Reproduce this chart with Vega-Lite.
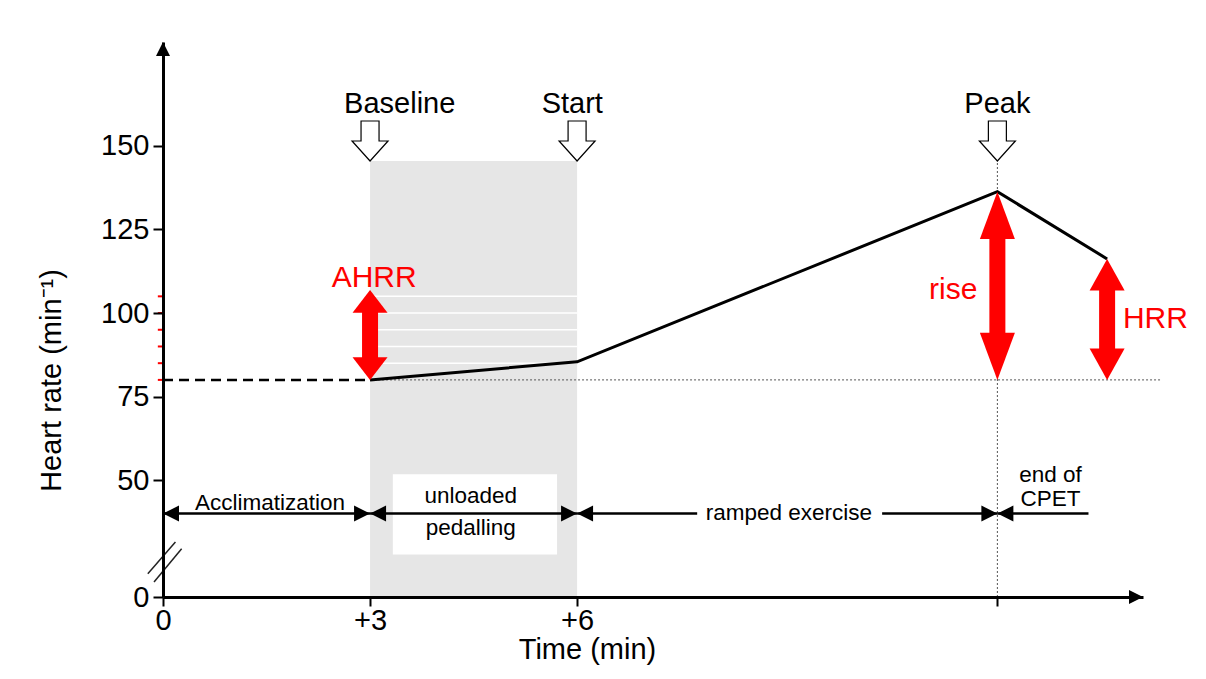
{
  "$schema": "https://vega.github.io/schema/vega-lite/v6.json",
  "autosize": "none",
  "width": 980,
  "height": 555,
  "padding": {"left": 163, "top": 42, "right": 63, "bottom": 82},
  "background": "white",
  "config": {"view": {"stroke": null}, "font": "Liberation Sans"},
  "datasets": {
    "shade": [{"x": 3, "x2": 6, "y": 0, "y2": 145.5}],
    "grid": [{"y": 85}, {"y": 90}, {"y": 95}, {"y": 100}, {"y": 105}],
    "redticks": [{"y": 80}, {"y": 85}, {"y": 90}, {"y": 95}, {"y": 100}, {"y": 105}],
    "box": [{"x": 3.33, "x2": 5.71, "y": 25.5, "y2": 51.8}],
    "hline80": [{"x": 3, "x2": 14.45, "y": 80}],
    "vpeak": [{"x": 12.09, "y": 0, "y2": 145}],
    "acclim": [{"x": 0, "y": 80}, {"x": 3, "y": 80}],
    "hr": [{"x": 3, "y": 80}, {"x": 6, "y": 85.4}, {"x": 12.09, "y": 136.3}, {"x": 13.68, "y": 116.2}],
    "red": [
      {"arrow": "AHRR", "x": 3, "bottom": 80, "top": 106.9, "shaftLow": 84.5, "shaftHigh": 102.5},
      {"arrow": "rise", "x": 12.09, "bottom": 80, "top": 136.3, "shaftLow": 92, "shaftHigh": 124},
      {"arrow": "HRR", "x": 13.68, "bottom": 80, "top": 116.2, "shaftLow": 87.5, "shaftHigh": 108.5}
    ],
    "hsegs": [
      {"x": 0, "x2": 3, "y": 40}, {"x": 3, "x2": 6, "y": 40}, {"x": 6, "x2": 7.74, "y": 40},
      {"x": 10.42, "x2": 12.09, "y": 40}, {"x": 12.09, "x2": 13.41, "y": 40}
    ],
    "hheads": [
      {"x": 0, "y": 40, "dir": "left"}, {"x": 3, "y": 40, "dir": "right"}, {"x": 3, "y": 40, "dir": "left"},
      {"x": 6, "y": 40, "dir": "right"}, {"x": 6, "y": 40, "dir": "left"},
      {"x": 12.09, "y": 40, "dir": "right"}, {"x": 12.09, "y": 40, "dir": "left"}
    ],
    "events": [{"x": 3, "y": 145.5}, {"x": 6, "y": 145.5}, {"x": 12.09, "y": 145.5}],
    "eventLabels": [
      {"label": "Baseline", "x": 3.43, "y": 160}, {"label": "Start", "x": 5.93, "y": 160}, {"label": "Peak", "x": 12.09, "y": 160}
    ],
    "redLabels": [
      {"label": "AHRR", "x": 3.06, "y": 107.8}, {"label": "rise", "x": 11.45, "y": 104.2}, {"label": "HRR", "x": 14.38, "y": 95.4}
    ],
    "phaseLabels": [
      {"label": "Acclimatization", "x": 1.55, "y": 41},
      {"label": "unloaded", "x": 4.46, "y": 43.1},
      {"label": "pedalling", "x": 4.46, "y": 33.5},
      {"label": "ramped exercise", "x": 9.07, "y": 38.2},
      {"label": "end of", "x": 12.86, "y": 49.4},
      {"label": "CPET", "x": 12.86, "y": 42.2}
    ],
    "axisBreak": [{"x": -0.22, "y": 14, "x2": 0.18, "y2": 31.5}, {"x": -0.13, "y": 9, "x2": 0.27, "y2": 29}]
  },
  "resolve": {"scale": {"shape": "independent"}},
  "layer": [
    {
      "data": {"name": "shade"},
      "mark": {"type": "rect", "color": "#e6e6e6"},
      "encoding": {
        "x": {"field": "x", "type": "quantitative",
          "scale": {"domain": [0, 14.2], "nice": false, "zero": false},
          "axis": {"title": "Time (min)", "values": [0, 3, 6, 12.09],
            "labelExpr": "datum.value == 0 ? '0' : datum.value == 3 ? '+3' : datum.value == 6 ? '+6' : ''",
            "grid": false, "domainColor": "black", "domainWidth": 3, "tickColor": "black", "tickWidth": 2, "tickSize": 9,
            "labelFontSize": 29, "labelColor": "black", "labelPadding": 0, "labelFlush": false, "labelOverlap": false,
            "titleFontSize": 29, "titleFontWeight": "normal", "titleColor": "black", "titlePadding": 0, "titleX": 424, "zindex": 1}},
        "x2": {"field": "x2"},
        "y": {"field": "y", "type": "quantitative",
          "scale": {"type": "linear", "domain": [0, 30, 181.1], "range": [555, 505, 0], "nice": false, "zero": false},
          "axis": {"title": "Heart rate (min⁻¹)", "values": [0, 50, 75, 100, 125, 150],
            "grid": false, "domainColor": "black", "domainWidth": 3, "tickColor": "black", "tickWidth": 2, "tickSize": 10,
            "labelFontSize": 29, "labelColor": "black", "labelPadding": 4, "labelFlush": false, "labelOverlap": false,
            "titleFontSize": 29, "titleFontWeight": "normal", "titleColor": "black", "titlePadding": 34, "titleY": 338, "zindex": 1}},
        "y2": {"field": "y2"}
      }
    },
    {
      "data": {"name": "grid"},
      "mark": {"type": "rule", "color": "white", "strokeWidth": 1.5},
      "encoding": {"x": {"datum": 3, "type": "quantitative"}, "x2": {"datum": 6}, "y": {"field": "y", "type": "quantitative"}}
    },
    {
      "data": {"name": "box"},
      "mark": {"type": "rect", "color": "white"},
      "encoding": {"x": {"field": "x", "type": "quantitative"}, "x2": {"field": "x2"}, "y": {"field": "y", "type": "quantitative"}, "y2": {"field": "y2"}}
    },
    {
      "data": {"name": "hline80"},
      "mark": {"type": "rule", "color": "#555555", "strokeWidth": 1, "strokeDash": [2, 2]},
      "encoding": {"x": {"field": "x", "type": "quantitative"}, "x2": {"field": "x2"}, "y": {"field": "y", "type": "quantitative"}}
    },
    {
      "data": {"name": "vpeak"},
      "mark": {"type": "rule", "color": "#555555", "strokeWidth": 1, "strokeDash": [2, 2]},
      "encoding": {"x": {"field": "x", "type": "quantitative"}, "y": {"field": "y", "type": "quantitative"}, "y2": {"field": "y2"}}
    },
    {
      "data": {"name": "acclim"},
      "mark": {"type": "line", "color": "black", "strokeWidth": 2.5, "strokeDash": [10, 6]},
      "encoding": {"x": {"field": "x", "type": "quantitative"}, "y": {"field": "y", "type": "quantitative"}}
    },
    {
      "data": {"name": "hr"},
      "mark": {"type": "line", "color": "black", "strokeWidth": 3},
      "encoding": {"x": {"field": "x", "type": "quantitative"}, "y": {"field": "y", "type": "quantitative"}}
    },
    {
      "data": {"name": "red"},
      "mark": {"type": "rule", "color": "#ff0000", "strokeWidth": 16, "strokeCap": "butt"},
      "encoding": {"x": {"field": "x", "type": "quantitative"}, "y": {"field": "shaftLow", "type": "quantitative"}, "y2": {"field": "shaftHigh"}}
    },
    {
      "data": {"name": "red"},
      "mark": {"type": "point", "filled": true, "fill": "#ff0000", "opacity": 1, "strokeWidth": 0, "size": 1225},
      "encoding": {
        "x": {"field": "x", "type": "quantitative"},
        "y": {"field": "top", "type": "quantitative"},
        "shape": {"field": "arrow", "type": "nominal", "legend": null,
          "scale": {"domain": ["AHRR", "rise", "HRR"], "range": ["M0,0L1,1.3L-1,1.3Z", "M0,0L1,2.7L-1,2.7Z", "M0,0L1,1.8L-1,1.8Z"]}}
      }
    },
    {
      "data": {"name": "red"},
      "mark": {"type": "point", "filled": true, "fill": "#ff0000", "opacity": 1, "strokeWidth": 0, "size": 1225},
      "encoding": {
        "x": {"field": "x", "type": "quantitative"},
        "y": {"field": "bottom", "type": "quantitative"},
        "shape": {"field": "arrow", "type": "nominal", "legend": null,
          "scale": {"domain": ["AHRR", "rise", "HRR"], "range": ["M0,0L1,-1.3L-1,-1.3Z", "M0,0L1,-2.7L-1,-2.7Z", "M0,0L1,-1.8L-1,-1.8Z"]}}
      }
    },
    {
      "data": {"name": "hsegs"},
      "mark": {"type": "rule", "color": "black", "strokeWidth": 2.5},
      "encoding": {"x": {"field": "x", "type": "quantitative"}, "x2": {"field": "x2"}, "y": {"field": "y", "type": "quantitative"}}
    },
    {
      "data": {"name": "hheads"},
      "mark": {"type": "point", "filled": true, "fill": "black", "opacity": 1, "strokeWidth": 0, "size": 256},
      "encoding": {
        "x": {"field": "x", "type": "quantitative"},
        "y": {"field": "y", "type": "quantitative"},
        "shape": {"field": "dir", "type": "nominal", "legend": null,
          "scale": {"domain": ["left", "right"], "range": ["M0,0L2,-1L2,1Z", "M0,0L-2,-1L-2,1Z"]}}
      }
    },
    {
      "data": {"name": "events"},
      "mark": {"type": "point", "filled": true, "fill": "white", "stroke": "black", "strokeWidth": 1.2, "opacity": 1, "size": 1296,
        "shape": "M0,0L-1,-1.11L-0.5,-1.11L-0.5,-2.22L0.5,-2.22L0.5,-1.11L1,-1.11Z"},
      "encoding": {"x": {"field": "x", "type": "quantitative"}, "y": {"field": "y", "type": "quantitative"}}
    },
    {
      "data": {"name": "eventLabels"},
      "mark": {"type": "text", "font": "Liberation Sans", "fontSize": 29, "color": "black", "align": "center", "baseline": "alphabetic"},
      "encoding": {"x": {"field": "x", "type": "quantitative"}, "y": {"field": "y", "type": "quantitative"}, "text": {"field": "label"}}
    },
    {
      "data": {"name": "redLabels"},
      "mark": {"type": "text", "font": "Liberation Sans", "fontSize": 30, "color": "#ff0000", "align": "center", "baseline": "alphabetic"},
      "encoding": {"x": {"field": "x", "type": "quantitative"}, "y": {"field": "y", "type": "quantitative"}, "text": {"field": "label"}}
    },
    {
      "data": {"name": "phaseLabels"},
      "mark": {"type": "text", "font": "Liberation Sans", "fontSize": 22.5, "color": "black", "align": "center", "baseline": "alphabetic"},
      "encoding": {"x": {"field": "x", "type": "quantitative"}, "y": {"field": "y", "type": "quantitative"}, "text": {"field": "label"}}
    },
    {
      "data": {"name": "redticks"},
      "mark": {"type": "rule", "color": "#ff0000", "strokeWidth": 2},
      "encoding": {"x": {"datum": -0.075, "type": "quantitative"}, "x2": {"datum": 0}, "y": {"field": "y", "type": "quantitative"}}
    },
    {
      "data": {"name": "axisBreak"},
      "mark": {"type": "rule", "color": "#222222", "strokeWidth": 1.5},
      "encoding": {"x": {"field": "x", "type": "quantitative"}, "x2": {"field": "x2"}, "y": {"field": "y", "type": "quantitative"}, "y2": {"field": "y2"}}
    },
    {
      "data": {"values": [{"x": 0, "y": 181.1}]},
      "mark": {"type": "point", "filled": true, "fill": "black", "opacity": 1, "strokeWidth": 0, "size": 196, "shape": "M0,0L1,2L-1,2Z"},
      "encoding": {"x": {"field": "x", "type": "quantitative"}, "y": {"field": "y", "type": "quantitative"}}
    },
    {
      "data": {"values": [{"x": 14.2, "y": 0}]},
      "mark": {"type": "point", "filled": true, "fill": "black", "opacity": 1, "strokeWidth": 0, "size": 196, "shape": "M0,0L-2,-1L-2,1Z"},
      "encoding": {"x": {"field": "x", "type": "quantitative"}, "y": {"field": "y", "type": "quantitative"}}
    }
  ]
}
